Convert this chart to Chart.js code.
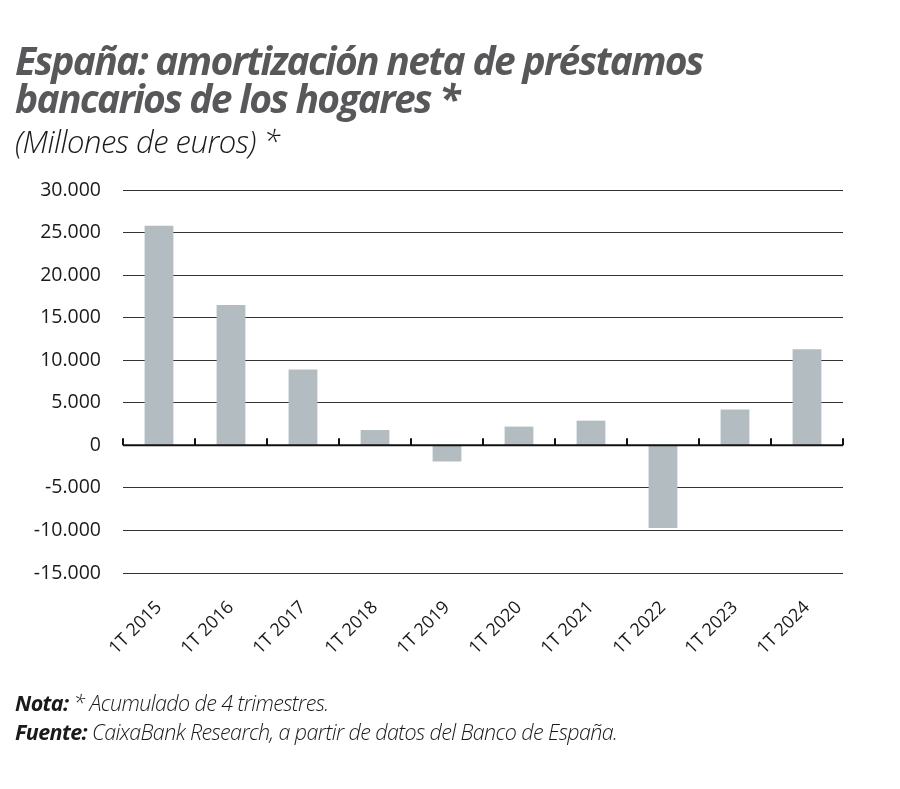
<!DOCTYPE html>
<html>
<head>
<meta charset="utf-8">
<script src="https://cdn.jsdelivr.net/npm/chart.js@4"></script>
<style>
  body { margin: 0; background: #fff; }
  #wrap { position: relative; width: 900px; height: 789px; overflow: hidden; font-family: "Open Sans", sans-serif; }
  #chart { position: absolute; left: 0; top: 0; }
  .title { position: absolute; left: 15px; top: 41px; margin: 0; color: #58585a; font-weight: 700; font-style: italic;
           font-size: 39px; line-height: 38px; letter-spacing: -1.7px; }
  .subtitle { position: absolute; left: 15px; top: 120px; color: #1a1a1a; font-style: italic; font-weight: 300; font-size: 31px; letter-spacing: -0.5px; }
  .notes { position: absolute; left: 15px; top: 688px; color: #1a1a1a; font-style: italic; font-size: 21.5px; line-height: 29px; letter-spacing: -0.6px; font-weight: 300; }
  .notes b { font-weight: 700; }
</style>
</head>
<body>
<div id="wrap">
  <canvas id="chart" width="900" height="789"></canvas>
  <h1 class="title">España: amortización neta de préstamos<br>bancarios de los hogares *</h1>
  <div class="subtitle">(Millones de euros) *</div>
  <div class="notes">
    <div><b>Nota:</b> * Acumulado de 4 trimestres.</div>
    <div><b>Fuente:</b> CaixaBank Research, a partir de datos del Banco de España.</div>
  </div>
</div>
<script>
const labels = ['1T 2015', '1T 2016', '1T 2017', '1T 2018', '1T 2019', '1T 2020', '1T 2021', '1T 2022', '1T 2023', '1T 2024'];
const amortizacion = [25800, 16500, 8900, 1800, -1900, 2200, 2900, -9700, 4200, 11300];
const yTicks = [-15000, -10000, -5000, 0, 5000, 10000, 15000, 20000, 25000, 30000];

// zero line with small upward ticks at category boundaries
const zeroAxis = {
  id: 'zeroAxis',
  afterDatasetsDraw(chart) {
    const { ctx, chartArea, scales: { x, y } } = chart;
    const y0 = y.getPixelForValue(0);
    ctx.save();
    ctx.strokeStyle = '#111';
    ctx.lineWidth = 2;
    ctx.beginPath();
    ctx.moveTo(chartArea.left, y0);
    ctx.lineTo(chartArea.right, y0);
    const step = (chartArea.right - chartArea.left) / labels.length;
    for (let i = 0; i <= labels.length; i++) {
      const px = x.getPixelForValue(i) - step / 2;
      ctx.moveTo(px, y0);
      ctx.lineTo(px, y0 - 7);
    }
    ctx.stroke();
    ctx.restore();
  }
};

new Chart(document.getElementById('chart'), {
  type: 'bar',
  data: {
    labels: labels,
    datasets: [{
      data: amortizacion,
      backgroundColor: '#b3bdc1',
      barPercentage: 0.4,
      categoryPercentage: 1
    }]
  },
  options: {
    responsive: false,
    animation: false,
    layout: { padding: { top: 190, right: 57, bottom: 116, left: 0 } },
    plugins: { legend: { display: false }, tooltip: { enabled: false } },
    scales: {
      x: {
        grid: { display: false },
        border: { display: false },
        ticks: {
          color: '#1a1a1a',
          font: { family: 'Open Sans', size: 18 },
          minRotation: 45,
          maxRotation: 45,
          padding: 16
        },
        afterFit(scale) { scale.height = 100; }
      },
      y: {
        min: -15000,
        max: 30000,
        afterBuildTicks(scale) { scale.ticks = yTicks.map(v => ({ value: v })); },
        grid: { color: ctx => ctx.tick && ctx.tick.value === 0 ? 'rgba(0,0,0,0)' : '#333', lineWidth: 1, drawTicks: false },
        border: { display: false },
        ticks: {
          color: '#1a1a1a',
          font: { family: 'Open Sans', size: 19.5 },
          padding: 22,
          callback: v => v.toLocaleString('de-DE')
        },
        afterFit(scale) { scale.width = 123; }
      }
    }
  },
  plugins: [zeroAxis]
});
</script>
</body>
</html>
